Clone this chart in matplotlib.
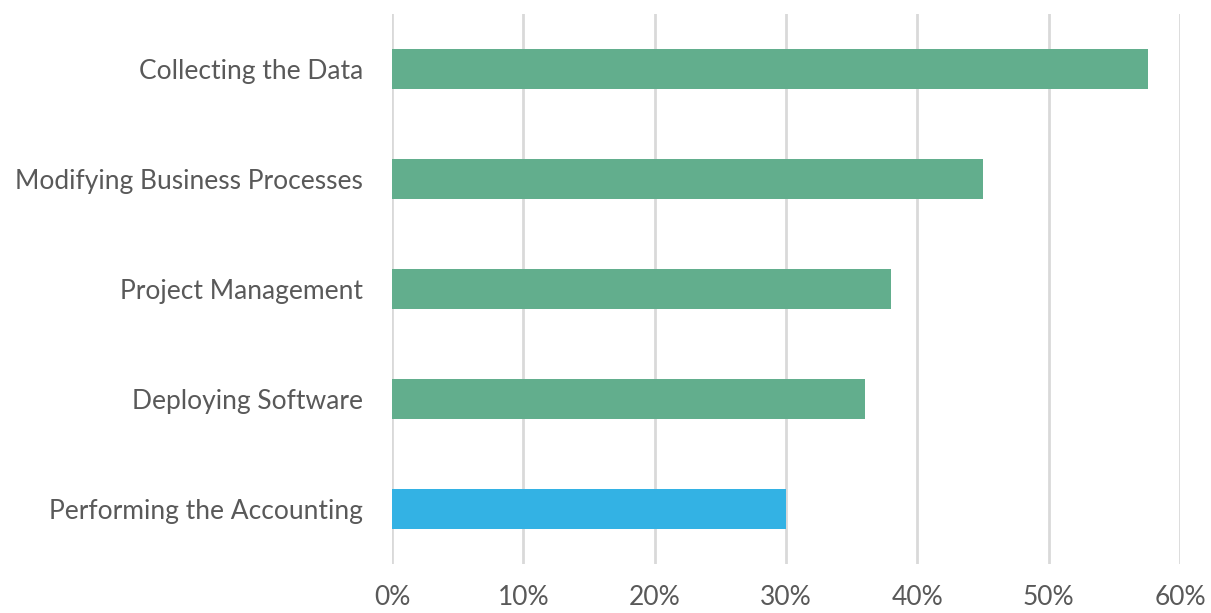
import matplotlib
matplotlib.use("Agg")
import matplotlib.pyplot as plt
from matplotlib.ticker import FuncFormatter

categories = [
    "Collecting the Data",
    "Modifying Business Processes",
    "Project Management",
    "Deploying Software",
    "Performing the Accounting",
]
values = [57.6, 45.0, 38.0, 36.0, 30.0]
bar_colors = ["#62AE8D", "#62AE8D", "#62AE8D", "#62AE8D", "#33B2E4"]
x_ticks = [0, 10, 20, 30, 40, 50, 60]

plt.rcParams["font.family"] = ["Lato", "DejaVu Sans"]

fig = plt.figure(figsize=(12.11, 6.13), dpi=100)
ax = fig.add_axes([0.3237, 0.0799, 0.6507, 0.8972])

ypos = list(range(len(categories)))
ax.barh(ypos, values, height=0.364, color=bar_colors, zorder=3)

ax.set_ylim(len(categories) - 0.5, -0.5)
ax.set_xlim(0, 60)
ax.set_yticks(ypos)
ax.set_yticklabels(categories)
ax.set_xticks(x_ticks)
ax.xaxis.set_major_formatter(FuncFormatter(lambda v, p: f"{v:.0f}%"))

ax.grid(axis="x", color="#D9D9D9", linewidth=2, zorder=0)
for s in ax.spines.values():
    s.set_visible(False)
ax.tick_params(axis="both", length=0, colors="#595959", labelsize=19)
ax.tick_params(axis="y", pad=21)
ax.tick_params(axis="x", pad=15)

fig.savefig("out.png", dpi=100)
